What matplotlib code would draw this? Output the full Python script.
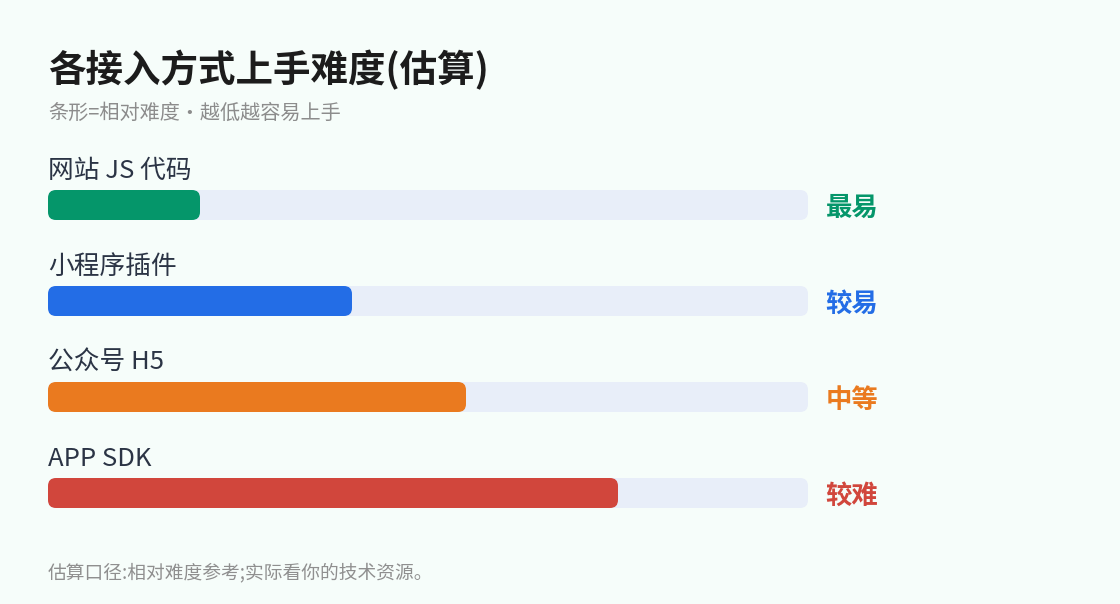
import matplotlib
matplotlib.use("Agg")
import matplotlib.pyplot as plt
from matplotlib.patches import FancyBboxPatch

plt.rcParams['font.family'] = ['Noto Sans CJK SC', 'DejaVu Sans']

# data
names = ["网站 JS 代码", "小程序插件", "公众号 H5", "APP SDK"]
difficulty = [20, 40, 55, 75]
levels = ["最易", "较易", "中等", "较难"]
colors = ["#05966a", "#236de6", "#ea7a1f", "#d1463c"]

title = "各接入方式上手难度(估算)"
subtitle = "条形=相对难度·越低越容易上手"
footnote = "估算口径:相对难度参考;实际看你的技术资源。"

bg = "#f6fdfa"
track = "#e8eef9"

W, H = 1120, 604
fig = plt.figure(figsize=(W / 100, H / 100), dpi=100, facecolor=bg)

# bar area: x 48..808 px, y 150..530 px
ax = fig.add_axes([48 / W, 1 - 530 / H, 760 / W, 380 / H])
ax.set_facecolor(bg)
ax.set_xlim(0, 100)
row_px = 96
ax.set_ylim(3 + 37 / row_px, -55 / row_px)
ax.axis("off")

bar_h = 30 / row_px
aspect = (1 / row_px) / (100 / 760)
r = 8 * 100 / 760

for i, (n, v, lv, c) in enumerate(zip(names, difficulty, levels, colors)):
    ax.add_patch(FancyBboxPatch((0, i - bar_h / 2), 100, bar_h,
                                boxstyle=f"round,pad=0,rounding_size={r}",
                                mutation_aspect=aspect, fc=track, ec="none"))
    ax.add_patch(FancyBboxPatch((0, i - bar_h / 2), v, bar_h,
                                boxstyle=f"round,pad=0,rounding_size={r}",
                                mutation_aspect=aspect, fc=c, ec="none"))
    ax.text(0, i - 34 / row_px, n, fontsize=18.5, color="#2b3445",
            va="center", ha="left")
    ax.text(102.3, i + 3 / row_px, lv, fontsize=19, color=c, fontweight="bold",
            va="center", ha="left")

fig.text(48 / W, 1 - 70 / H, title, fontsize=27, fontweight="bold",
         color="#1c1c1c", va="center", ha="left")
fig.text(48 / W, 1 - 113 / H, subtitle, fontsize=14.5, color="#8c8c8c",
         va="center", ha="left")
fig.text(48 / W, 1 - 573 / H, footnote, fontsize=13.5, color="#8f8f8f",
         va="center", ha="left")

fig.savefig("out.png", dpi=100, facecolor=bg)
